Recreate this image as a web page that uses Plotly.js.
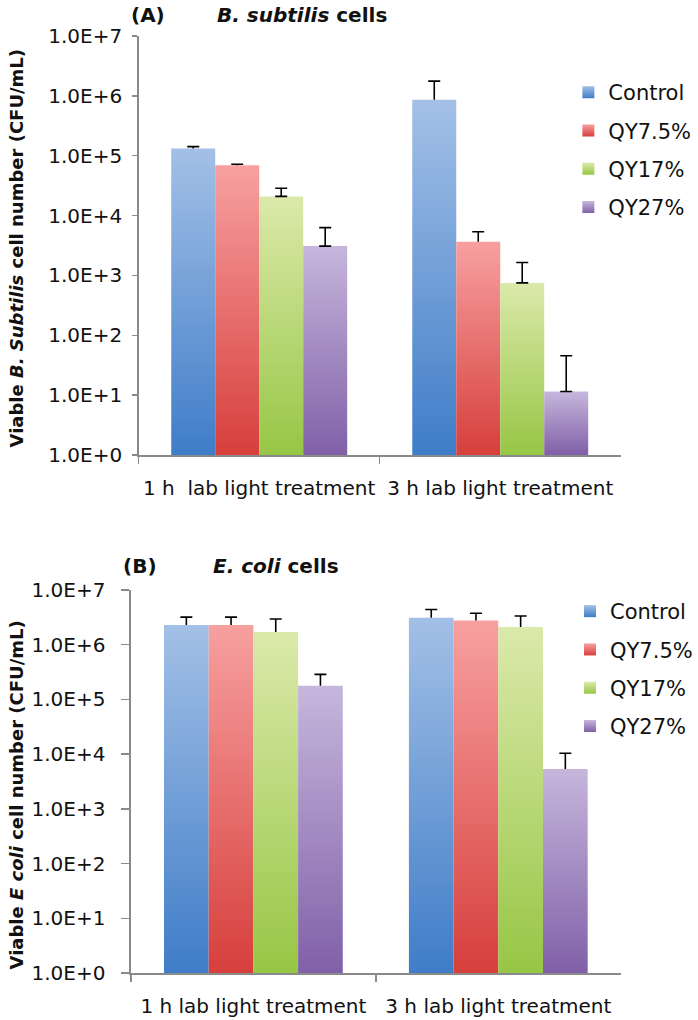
<!DOCTYPE html>
<html>
<head>
<meta charset="utf-8">
<script src="https://cdn.plot.ly/plotly-3.0.1.min.js"></script>
<style>
  html, body { margin: 0; padding: 0; background: #ffffff; }
  #chart { width: 698px; height: 1020px; }
</style>
</head>
<body>
<div id="chart"></div>
<script>
// ---------- data ----------
const seriesNames = ['Control', 'QY7.5%', 'QY17%', 'QY27%'];
const categoriesA = ['1 h  lab light treatment', '3 h lab light treatment'];
const categoriesB = ['1 h lab light treatment', '3 h lab light treatment'];

// (A) B. subtilis, CFU/mL
const bsubControl = [1.32e5, 8.6e5];
const bsubQY75    = [6.9e4, 3.66e3];
const bsubQY17    = [2.09e4, 7.5e2];
const bsubQY27    = [3.09e3, 11.5];
const bsubControlErr = [1.0e4, 9.0e5];
const bsubQY75Err    = [3.0e3, 1.7e3];
const bsubQY17Err    = [7.7e3, 8.9e2];
const bsubQY27Err    = [3.2e3, 34];

// (B) E. coli, CFU/mL
const ecoliControl = [2.3e6, 3.1e6];
const ecoliQY75    = [2.3e6, 2.76e6];
const ecoliQY17    = [1.71e6, 2.1e6];
const ecoliQY27    = [1.77e5, 5.36e3];
const ecoliControlErr = [9.0e5, 1.3e6];
const ecoliQY75Err    = [9.0e5, 1.0e6];
const ecoliQY17Err    = [1.25e6, 1.25e6];
const ecoliQY27Err    = [1.1e5, 5.0e3];

const yTickVals = [1, 10, 100, 1000, 10000, 100000, 1000000, 10000000];
const yTickText = ['1.0E+0', '1.0E+1', '1.0E+2', '1.0E+3', '1.0E+4', '1.0E+5', '1.0E+6', '1.0E+7'];

// which error bars show a cap at the bar top ("I" shape) vs. only the upper cap ("T")
const lowerCapA = [false, false, true, true];
const lowerCapB = [false, false, false, false];

// ---------- styles ----------
const W = 698, H = 1020;
const px = v => v / W;
const py = v => (H - v) / H;
const FONT = 'DejaVu Sans';
const midColors = ['#6f9dd6', '#e86e6c', '#bcd77a', '#a48cc4'];
const gradStops = [
  ['#a3c0e6', '#3f7dc8'],
  ['#f7a0a0', '#d63f3c'],
  ['#dbe9aa', '#97c645'],
  ['#c6b6dc', '#8060a8']
];

const topVals = [bsubControl, bsubQY75, bsubQY17, bsubQY27];
const topErrs = [bsubControlErr, bsubQY75Err, bsubQY17Err, bsubQY27Err];
const botVals = [ecoliControl, ecoliQY75, ecoliQY17, ecoliQY27];
const botErrs = [ecoliControlErr, ecoliQY75Err, ecoliQY17Err, ecoliQY27Err];

const data = [];
seriesNames.forEach((name, i) => {
  data.push({
    type: 'bar', name: name, x: categoriesA, y: topVals[i],
    xaxis: 'x', yaxis: 'y', legend: 'legend', legendgroup: 'a' + i,
    marker: { color: midColors[i], line: { width: 0 } },
    error_y: { type: 'data', symmetric: false, array: topErrs[i], arrayminus: [0, 0],
               color: '#000000', thickness: 1.6, width: 6 }
  });
});
seriesNames.forEach((name, i) => {
  data.push({
    type: 'bar', name: name, x: categoriesB, y: botVals[i],
    xaxis: 'x2', yaxis: 'y2', legend: 'legend2', legendgroup: 'b' + i,
    marker: { color: midColors[i], line: { width: 0 } },
    error_y: { type: 'data', symmetric: false, array: botErrs[i], arrayminus: [0, 0],
               color: '#000000', thickness: 1.6, width: 6 }
  });
});

const axisLine = '#8a8a8a';
const tickFont = { family: FONT, size: 20, color: '#111111' };

function yAxis(domain, anchor, ticklen, standoff) {
  return {
    type: 'log', range: [0, 7], domain: domain, anchor: anchor,
    tickmode: 'array', tickvals: yTickVals, ticktext: yTickText,
    showline: true, linecolor: axisLine, linewidth: 1.5,
    ticks: 'outside', ticklen: ticklen, tickcolor: axisLine, tickwidth: 1.5,
    ticklabelstandoff: standoff,
    showgrid: false, zeroline: false, tickfont: tickFont, automargin: false, fixedrange: true
  };
}
function xAxis(domain, anchor) {
  return {
    type: 'category', domain: domain, anchor: anchor, range: [-0.5, 1.5],
    showline: true, linecolor: axisLine, linewidth: 1.5,
    ticks: 'outside', tickson: 'boundaries', ticklen: 7, tickcolor: axisLine, tickwidth: 1.5,
    ticklabelstandoff: 14, tickangle: 0,
    showgrid: false, zeroline: false, tickfont: tickFont, automargin: false, fixedrange: true
  };
}

const legendFont = { family: FONT, size: 21, color: '#111111' };

const layout = {
  width: W, height: H,
  margin: { l: 0, r: 0, t: 0, b: 0 },
  paper_bgcolor: '#ffffff', plot_bgcolor: '#ffffff',
  barmode: 'group', bargap: 0.27, bargroupgap: 0,
  font: { family: FONT, color: '#111111' },
  xaxis: xAxis([px(143), px(640)], 'y'),
  yaxis: yAxis([py(455), py(36)], 'x', 5, 6),
  xaxis2: xAxis([px(135), px(640)], 'y2'),
  yaxis2: yAxis([py(973), py(590)], 'x2', 8, 12),
  legend: {
    x: px(586), y: py(72), xanchor: 'left', yanchor: 'top',
    font: legendFont, bgcolor: 'rgba(0,0,0,0)', borderwidth: 0,
    tracegroupgap: 8, traceorder: 'grouped'
  },
  legend2: {
    x: px(588), y: py(591), xanchor: 'left', yanchor: 'top',
    font: legendFont, bgcolor: 'rgba(0,0,0,0)', borderwidth: 0,
    tracegroupgap: 8, traceorder: 'grouped'
  },
  annotations: [
    { text: '<b>(A)</b>', x: px(133), y: py(15), xref: 'paper', yref: 'paper',
      xanchor: 'left', yanchor: 'middle', showarrow: false,
      font: { family: FONT, size: 20, color: '#111111' } },
    { text: '<b><i>B. subtilis</i> cells</b>', x: px(222), y: py(15), xref: 'paper', yref: 'paper',
      xanchor: 'left', yanchor: 'middle', showarrow: false,
      font: { family: FONT, size: 20, color: '#111111' } },
    { text: '<b>(B)</b>', x: px(125), y: py(566), xref: 'paper', yref: 'paper',
      xanchor: 'left', yanchor: 'middle', showarrow: false,
      font: { family: FONT, size: 20, color: '#111111' } },
    { text: '<b><i>E. coli</i> cells</b>', x: px(218), y: py(566), xref: 'paper', yref: 'paper',
      xanchor: 'left', yanchor: 'middle', showarrow: false,
      font: { family: FONT, size: 20, color: '#111111' } },
    { text: '<b>Viable <i>B. Subtilis</i> cell number (CFU/mL)</b>', x: px(17), y: py(248),
      xref: 'paper', yref: 'paper', xanchor: 'center', yanchor: 'middle', textangle: -90,
      showarrow: false, font: { family: FONT, size: 18, color: '#111111' } },
    { text: '<b>Viable <i>E coli</i> cell number (CFU/mL)</b>', x: px(17), y: py(795),
      xref: 'paper', yref: 'paper', xanchor: 'center', yanchor: 'middle', textangle: -90,
      showarrow: false, font: { family: FONT, size: 18, color: '#111111' } }
  ]
};

function applyStyling(gd) {
  const svgNS = 'http://www.w3.org/2000/svg';
  const defs = gd.querySelector('svg.main-svg defs');
  if (!defs) return;
  let gid = 0;
  const makeGrad = (i, userSpace, y1, y2) => {
    const stops = gradStops[i];
    const lg = document.createElementNS(svgNS, 'linearGradient');
    const id = 'barGrad' + (gid++);
    lg.setAttribute('id', id);
    if (userSpace) {
      lg.setAttribute('gradientUnits', 'userSpaceOnUse');
      lg.setAttribute('x1', '0'); lg.setAttribute('x2', '0');
      lg.setAttribute('y1', String(y1)); lg.setAttribute('y2', String(y2));
    } else {
      lg.setAttribute('x1', '0'); lg.setAttribute('y1', '0');
      lg.setAttribute('x2', '0'); lg.setAttribute('y2', '1');
    }
    [[0, stops[0]], [1, stops[1]]].forEach(([off, col]) => {
      const s = document.createElementNS(svgNS, 'stop');
      s.setAttribute('offset', String(off));
      s.setAttribute('stop-color', col);
      lg.appendChild(s);
    });
    defs.appendChild(lg);
    return id;
  };
  const traceOf = el => {
    const d = el.__data__;
    return d && d[0] && d[0].trace;
  };
  const fl = gd._fullLayout;
  gd.querySelectorAll('.barlayer .trace').forEach(g => {
    const tr = traceOf(g);
    if (!tr) return;
    const i = seriesNames.indexOf(tr.name);
    if (i < 0) return;
    const isB = tr.yaxis === 'y2';
    const ya = fl[isB ? 'yaxis2' : 'yaxis'];
    g.querySelectorAll('.point path').forEach(p => {
      const bb = p.getBBox();
      const top = Math.max(bb.y, 0);
      const id = makeGrad(i, true, top, ya._length);
      p.style.fill = 'url(#' + id + ')';
    });
    const keepLower = (isB ? lowerCapB : lowerCapA)[i];
    if (!keepLower) {
      g.querySelectorAll('path.yerror').forEach(p => {
        const d = p.getAttribute('d') || '';
        p.setAttribute('d', d.replace(/(V[^m]+)m.*$/, '$1'));
      });
    }
  });
  gd.querySelectorAll('g.traces').forEach(g => {
    const tr = traceOf(g);
    if (!tr) return;
    const i = seriesNames.indexOf(tr.name);
    if (i < 0) return;
    const id = makeGrad(i, false);
    g.querySelectorAll('.legendpoints path').forEach(p => { p.style.fill = 'url(#' + id + ')'; });
  });
}

Plotly.newPlot('chart', data, layout, { staticPlot: true, displayModeBar: false })
  .then(applyStyling);
</script>
</body>
</html>
